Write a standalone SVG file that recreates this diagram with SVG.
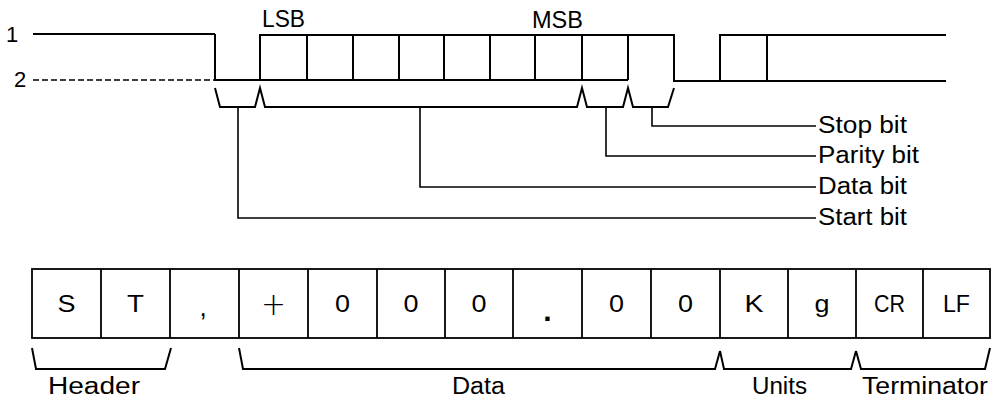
<svg xmlns="http://www.w3.org/2000/svg" width="993" height="403" viewBox="0 0 993 403">
<style>
  text { font-family: "Liberation Sans", Arial, sans-serif; fill: #000; }
  .lbl { font-size: 23px; }
  .cell { font-size: 23px; text-anchor: middle; }
  .plus { font-family: "DejaVu Sans ExtraLight", "DejaVu Sans", sans-serif; font-weight: 200; font-size: 32px; }
  .wave { fill: none; stroke: #000; stroke-width: 2; stroke-linejoin: miter; }
  .br { fill: none; stroke: #000; stroke-width: 2; }
  .con { fill: none; stroke: #000; stroke-width: 1.6; }
  .tbl { fill: none; stroke: #000; stroke-width: 1.8; }
</style>
<rect width="993" height="403" fill="#fff"/>

<g id="levels">
  <text x="6" y="42" style="font-size:22px">1</text>
  <text x="14" y="87" style="font-size:22px">2</text>
  <line x1="33" y1="34" x2="215" y2="34" class="wave"/>
  <line x1="33" y1="80" x2="215" y2="80" stroke="#000" stroke-width="1.6" stroke-dasharray="6,3"/>
</g>

<g id="waveform">
  <path class="wave" d="M215,34 V80 H628 M260,80 V35 H674 V81 H946 M720,81 V35 H946 M767,35 V81"/>
  <path class="wave" d="M307,35 V80 M353,35 V80 M399,35 V80 M444,35 V80 M490,35 V80 M535,35 V80 M582,35 V80 M628,35 V80"/>
  <text class="lbl" x="262" y="27" textLength="43" lengthAdjust="spacingAndGlyphs">LSB</text>
  <text class="lbl" x="532" y="28" textLength="51" lengthAdjust="spacingAndGlyphs">MSB</text>
</g>

<g id="bit-bracket">
  <path class="br" d="M215,88 L220,107 L255,107 L260,88 L265,107 L577,107 L582,88 L587,107 L623,107 L628,88 L633,107 L668,107 L674,88"/>
</g>

<g id="connectors">
  <path class="con" d="M652,107 V126 H816"/>
  <path class="con" d="M606,107 V156 H816"/>
  <path class="con" d="M420,107 V187 H816"/>
  <path class="con" d="M238,107 V218 H816"/>
</g>

<g id="stop-bit"><text class="lbl" x="818" y="133" textLength="89" lengthAdjust="spacingAndGlyphs">Stop bit</text></g>
<g id="parity-bit"><text class="lbl" x="818" y="163" textLength="101" lengthAdjust="spacingAndGlyphs">Parity bit</text></g>
<g id="data-bit"><text class="lbl" x="818" y="194" textLength="89" lengthAdjust="spacingAndGlyphs">Data bit</text></g>
<g id="start-bit"><text class="lbl" x="818" y="225" textLength="89" lengthAdjust="spacingAndGlyphs">Start bit</text></g>

<g id="frame">
  <rect class="tbl" x="32" y="269" width="958" height="69"/>
  <path class="tbl" d="M101,269 V338 M170,269 V338 M239,269 V338 M308,269 V338 M377,269 V338 M445,269 V338 M513,269 V338 M582,269 V338 M651,269 V338 M720,269 V338 M788,269 V338 M856,269 V338 M923,269 V338"/>
  <text class="cell" x="66.5" y="312" textLength="18" lengthAdjust="spacingAndGlyphs">S</text>
  <text class="cell" x="135.5" y="312" textLength="17" lengthAdjust="spacingAndGlyphs">T</text>
  <text class="cell" x="203" y="316" style="font-size:26px">,</text>
  <text class="cell plus" x="273.5" y="315" textLength="25" lengthAdjust="spacingAndGlyphs">+</text>
  <text class="cell" x="342.5" y="312" textLength="15" lengthAdjust="spacingAndGlyphs">0</text>
  <text class="cell" x="411" y="312" textLength="15" lengthAdjust="spacingAndGlyphs">0</text>
  <text class="cell" x="479" y="312" textLength="15" lengthAdjust="spacingAndGlyphs">0</text>
  <text class="cell" x="547.5" y="321" style="font-size:30px;font-weight:bold">.</text>
  <text class="cell" x="616.5" y="312" textLength="15" lengthAdjust="spacingAndGlyphs">0</text>
  <text class="cell" x="685.5" y="312" textLength="15" lengthAdjust="spacingAndGlyphs">0</text>
  <text class="cell" x="754" y="312" textLength="19" lengthAdjust="spacingAndGlyphs">K</text>
  <text class="cell" x="822" y="312" textLength="15" lengthAdjust="spacingAndGlyphs">g</text>
  <text class="cell" x="889.5" y="312" textLength="31" lengthAdjust="spacingAndGlyphs">CR</text>
  <text class="cell" x="956.5" y="312" textLength="27" lengthAdjust="spacingAndGlyphs">LF</text>
</g>

<g id="header">
  <path class="br" d="M32,348 L36,369 L165,369 L171,348"/>
  <text class="lbl" x="48" y="394" textLength="92" lengthAdjust="spacingAndGlyphs">Header</text>
</g>
<g id="data">
  <path class="br" d="M239,348 L243,369 L715,369 L720,351"/>
  <text class="lbl" x="452" y="394" textLength="53" lengthAdjust="spacingAndGlyphs">Data</text>
</g>
<g id="units">
  <path class="br" d="M720,351 L724,369 L851,369 L856,351"/>
  <text class="lbl" x="752" y="394" textLength="55" lengthAdjust="spacingAndGlyphs">Units</text>
</g>
<g id="terminator">
  <path class="br" d="M856,351 L861,369 L985,369 L990,348"/>
  <text class="lbl" x="862" y="394" textLength="126" lengthAdjust="spacingAndGlyphs">Terminator</text>
</g>
</svg>
